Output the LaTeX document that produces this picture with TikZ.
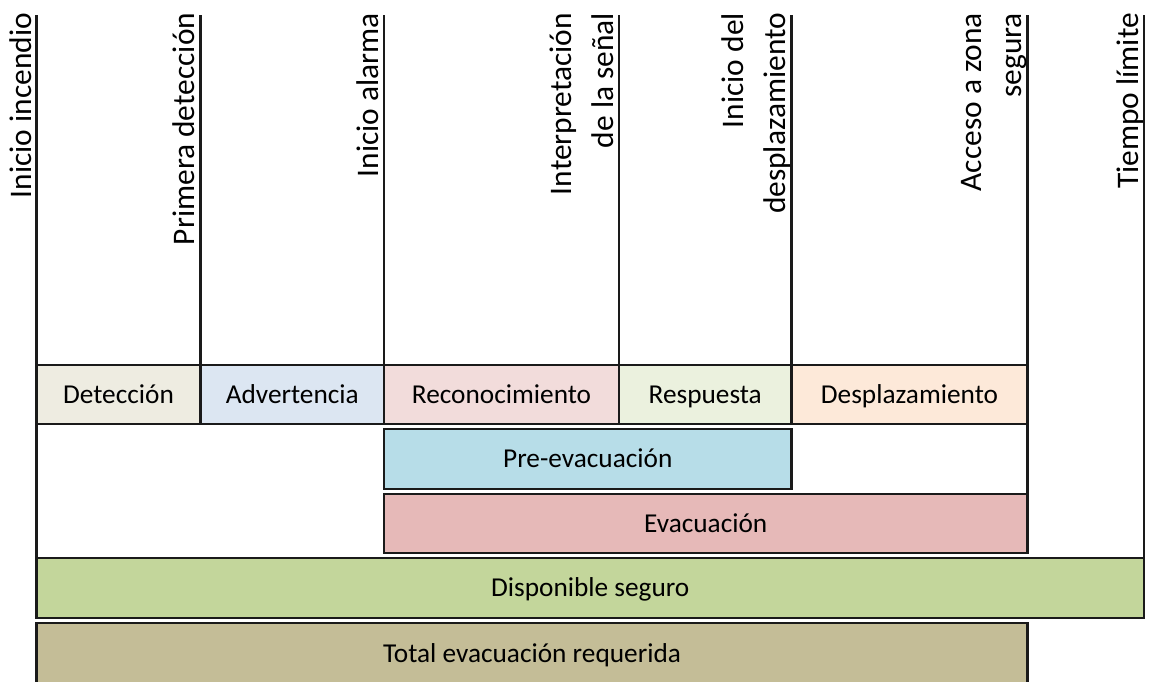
\documentclass[tikz,border=0pt]{standalone}
\usepackage{fontspec}
\setmainfont{Carlito}
\definecolor{cdet}{HTML}{EEECE1}
\definecolor{cadv}{HTML}{DCE6F2}
\definecolor{crec}{HTML}{F2DCDB}
\definecolor{cres}{HTML}{EBF1DE}
\definecolor{cdes}{HTML}{FDE9D9}
\definecolor{cpre}{HTML}{B7DDE8}
\definecolor{cevac}{HTML}{E6B9B8}
\definecolor{cdisp}{HTML}{C3D69B}
\definecolor{ctot}{HTML}{C4BD97}
\definecolor{cline}{HTML}{1A1A1A}
\begin{document}
\begin{tikzpicture}[x=1pt,y=-1pt,
  phase/.style={draw=cline,line width=2.2pt,inner sep=0pt,outer sep=0pt,anchor=north west,
    font=\fontsize{27.3}{33}\selectfont,text=black,text height=17.6pt,text depth=0pt},
  mark line/.style={draw=cline,line width=2.2pt},
  head/.style={rotate=90,anchor=base east,inner sep=0pt,outer sep=0pt,
    font=\fontsize{31.4}{38}\selectfont,text=black}]
\useasboundingbox (0,0) rectangle (1149,681);
\begin{scope}
\clip (0,0) rectangle (1149,681);
% row 1
\node[phase,fill=cdet,minimum width=164pt,minimum height=59pt] (det) at (36.5,365) {Detección};
\node[phase,fill=cadv,minimum width=183.5pt,minimum height=59pt] (adv) at (200.5,365) {Advertencia};
\node[phase,fill=crec,minimum width=235pt,minimum height=59pt] (rec) at (384,365) {Reconocimiento};
\node[phase,fill=cres,minimum width=172.5pt,minimum height=59pt] (res) at (619,365) {Respuesta};
\node[phase,fill=cdes,minimum width=236pt,minimum height=59pt] (des) at (791.5,365) {Desplazamiento};
% rows 2-5
\node[phase,fill=cpre,minimum width=407.5pt,minimum height=60pt] (pre) at (384,429) {Pre-evacuación};
\node[phase,fill=cevac,minimum width=643.5pt,minimum height=59pt] (evac) at (384,494) {Evacuación};
\node[phase,fill=cdisp,minimum width=1107.5pt,minimum height=60pt] (disp) at (36.5,558) {Disponible seguro};
\node[phase,fill=ctot,minimum width=991pt,minimum height=61pt] (tot) at (36.5,623) {Total evacuación requerida};
\end{scope}
% vertical marks
\coordinate (m1) at (36.5,15);
\coordinate (m2) at (200.5,15);
\coordinate (m3) at (384,15);
\coordinate (m4) at (619,15);
\coordinate (m5) at (791.5,15);
\coordinate (m6) at (1027.5,15);
\coordinate (m7) at (1144,15);
\draw[mark line] (m1) -- (disp.north west);
\draw[mark line] (m2) -- (det.north east);
\draw[mark line] (m3) -- (rec.north west);
\draw[mark line] (m4) -- (res.north west);
\draw[mark line] (m5) -- (des.north west);
\draw[mark line] (m6) -- (evac.north east);
\draw[mark line] (m7) -- (disp.north east);
% labels
\node[head] (l1) at (31,13) {Inicio incendio};
\node[head] (l2) at (194.5,13) {Primera detección};
\node[head] (l3) at (378,13) {Inicio alarma};
\node[head] (l4a) at (571,13) {Interpretación};
\node[head] (l4b) at (613,13) {de la señal};
\node[head] (l5a) at (743,13) {Inicio del};
\node[head] (l5b) at (785,13) {desplazamiento};
\node[head] (l6a) at (981,13) {Acceso a zona};
\node[head] (l6b) at (1021.5,13) {segura};
\node[head] (l7) at (1138,13) {Tiempo límite};
\end{tikzpicture}
\end{document}
